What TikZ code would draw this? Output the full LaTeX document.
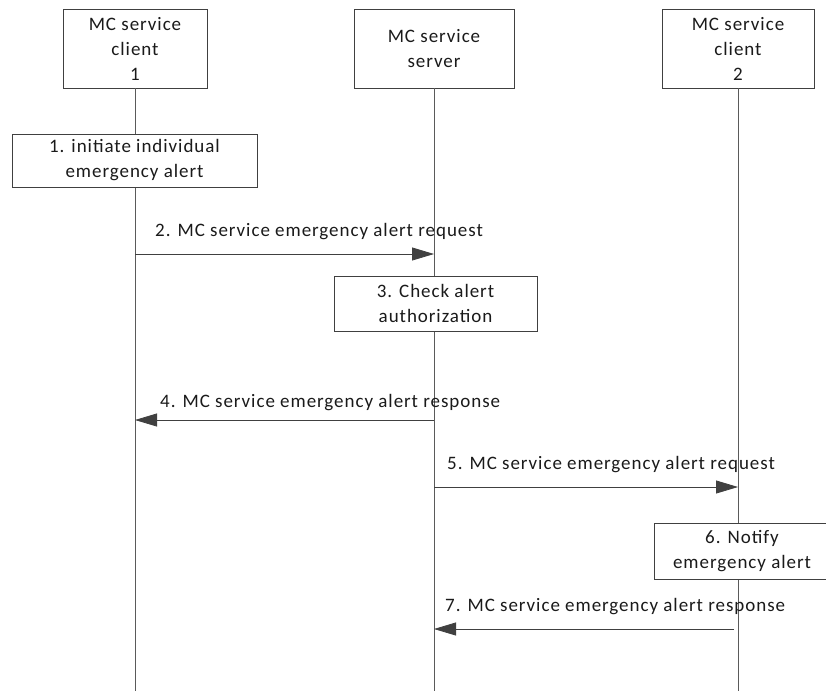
\documentclass[tikz,border=0pt]{standalone}
\usepackage{fontspec}
\setmainfont{Carlito}[LetterSpace=5]
\usepackage{tikz}
\usetikzlibrary{arrows.meta, positioning}
\definecolor{seqline}{RGB}{90,90,90}
\definecolor{seqhead}{RGB}{64,64,64}
\definecolor{seqtext}{RGB}{26,26,26}
\tikzset{
    entity/.style={rectangle, draw=seqhead, line width=0.8pt, fill=white, minimum height=79pt, inner sep=0pt, align=center, font=\fontsize{19}{25}\selectfont, text=seqtext},
    actbox/.style={rectangle, draw=seqhead, line width=0.8pt, fill=white, inner sep=0pt, align=center, font=\fontsize{19}{25}\selectfont, text=seqtext},
    lifeline/.style={draw=seqline, line width=0.8pt},
    msgarrow/.style={-{Triangle[length=22pt,width=13pt]}, draw=seqline, line width=0.8pt, color=seqhead},
    msglabel/.style={anchor=west, inner sep=0pt, font=\fontsize{19}{25}\selectfont, text=seqtext}
}
\begin{document}
\begin{tikzpicture}[x=1pt, y=-1pt]
    \useasboundingbox (0,0) rectangle (826,691);

    % Entities
    \node[entity, minimum width=144pt] (cl1) at (135,48.5) {MC service\\client\\1};
    \node[entity, minimum width=160pt] (srv) at (434,48.5) {MC service\\server};
    \node[entity, minimum width=152pt] (cl2) at (738,48.5) {MC service\\client\\2};
    \coordinate (cl1end) at (135,691);
    \coordinate (srvend) at (434,691);
    \coordinate (cl2end) at (738,691);

    % Lifelines
    \draw[lifeline] (cl1) -- (cl1end);
    \draw[lifeline] (srv) -- (srvend);
    \draw[lifeline] (cl2) -- (cl2end);

    % Local steps
    \node[actbox, minimum width=245pt, minimum height=53pt] (step1) at (134.5,160.5) {1. initiate individual\\emergency alert};
    \node[actbox, minimum width=203pt, minimum height=55pt] (step3) at (435.5,303.5) {3. Check alert\\authorization};
    \node[actbox, minimum width=176pt, minimum height=56pt] (step6) at (742,551) {6. Notify\\emergency alert};

    % Message points
    \coordinate (m2a) at (135,254);
    \coordinate (m2b) at (434,254);
    \coordinate (m4a) at (434,420);
    \coordinate (m4b) at (135,420);
    \coordinate (m5a) at (434,487);
    \coordinate (m5b) at (738,487);
    \coordinate (m7a) at (734,629);
    \coordinate (m7b) at (434,629);

    % Messages
    \draw[msgarrow] (m2a) -- (m2b);
    \node[msglabel] (lbl2) at (155,232) {2. MC service emergency alert request};
    \draw[msgarrow] (m4a) -- (m4b);
    \node[msglabel] (lbl4) at (160,403) {4. MC service emergency alert response};
    \draw[msgarrow] (m5a) -- (m5b);
    \node[msglabel] (lbl5) at (447,465) {5. MC service emergency alert request};
    \draw[msgarrow] (m7a) -- (m7b);
    \node[msglabel] (lbl7) at (445,607) {7. MC service emergency alert response};
\end{tikzpicture}
\end{document}
